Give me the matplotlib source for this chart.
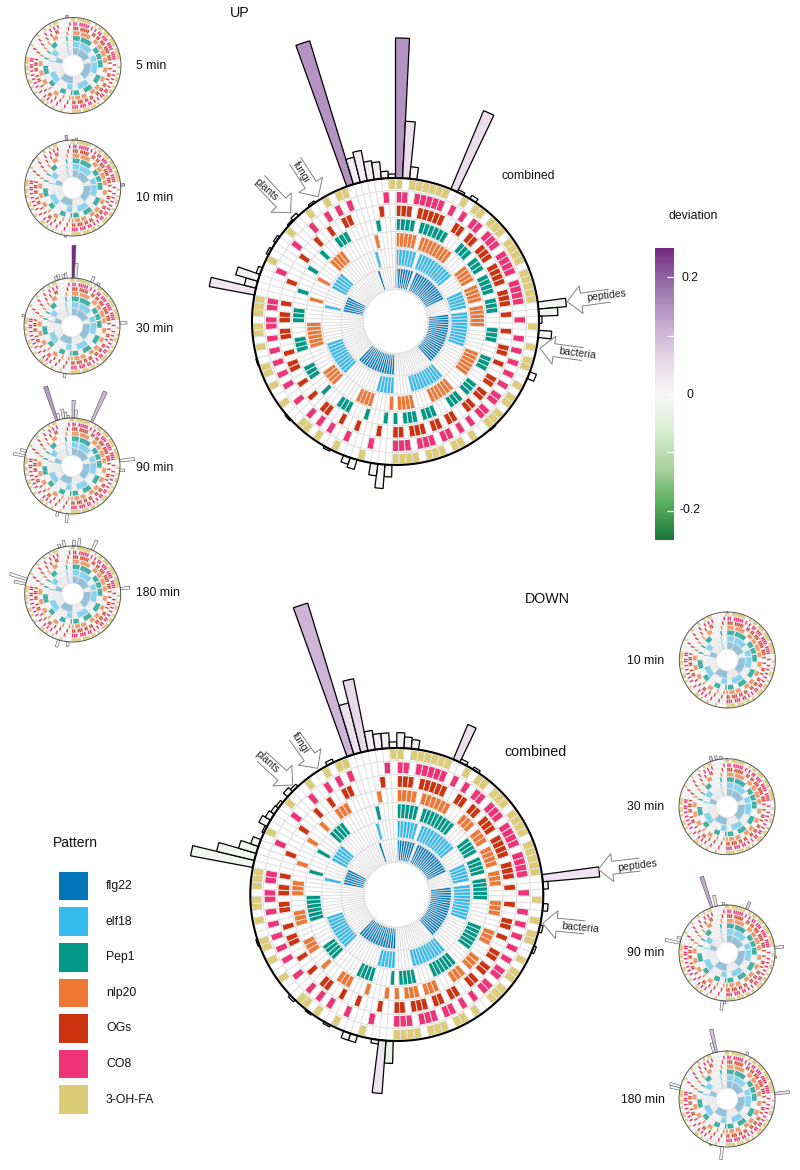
import matplotlib
matplotlib.use("Agg")
import matplotlib.pyplot as plt
import numpy as np
from matplotlib.colors import LinearSegmentedColormap, Normalize
from matplotlib.cm import ScalarMappable

plt.rcParams["font.family"] = ["Liberation Sans", "DejaVu Sans"]

W, H = 800, 1170

pattern_names = ["flg22", "elf18", "Pep1", "nlp20", "OGs", "CO8", "3-OH-FA"]
pattern_colors = ["#0077BB", "#33BBEE", "#009988", "#EE7733", "#CC3311", "#EE3377", "#DDCC77"]

# ring order from the centre outwards
rings_main_up = ["flg22", "elf18", "nlp20", "Pep1", "OGs", "CO8", "3-OH-FA"]
rings_other = ["flg22", "elf18", "Pep1", "nlp20", "OGs", "CO8", "3-OH-FA"]

# which rings are filled in each of the 127 columns, clockwise from 12 o'clock
columns = """
0123456
012345 012346 012356 012456 013456 023456 123456
01234 01235 01236 01245 01246 01256 01345 01346 01356 01456 02345 02346 02356 02456 03456
12345 12346 12356 12456 13456 23456
0123 0124 0125 0126 0134 0135 0136 0145 0146 0156 0234 0235 0236 0245 0246 0256 0345 0346 0356 0456
1234 1235 1236 1245 1246 1256 1345 1346 1356 1456 2345 2346 2356 2456 3456
012 013 014 015 016 023 024 025 026 034 035 036 045 046 056
123 124 125 126 134 135 136 145 146 156 234 235 236 245 246 256 345 346 356 456
01 02 03 04 05 06 12 13 14 15 16 23 24 25 26 34 35 36 45 46 56
0 1 2 3 4 5 6
""".split()

# outer bars: column number, length, deviation
up_combined_cols = [120, 121, 122, 123, 124, 125, 126, 0, 1, 2, 8, 9, 11, 29, 30, 31, 33, 39, 48,
                    64, 65, 66, 69, 70, 73, 80, 89, 99, 100, 101, 102, 105, 107, 110, 111, 114]
up_combined_vals = [150, 26, 31, 19, 17, 7, 4, 140, 57, 12, 85, 2.5, 4, 28, 19, 3, 13, 7, 1,
                    12, 24, 12, 10, 7, 2, 1.5, 1, 46, 12, 23, 4, 2.5, 2.5, 1.5, 3.5, 2]
up_combined_devs = [.145, .02, .02, .02, .02, .01, .01, .145, .04, .0, .045, 0, 0, -.01, -.01, 0, -.01, 0, 0,
                    -.01, -.01, -.01, 0, 0, 0, 0, 0, .03, .01, .01, 0, 0, 0, 0, 0, 0]

down_combined_cols = [120, 121, 122, 123, 124, 125, 126, 0, 1, 2, 8, 9, 11, 29, 30, 33, 36, 39,
                      64, 65, 66, 69, 70, 73, 76, 79, 88, 99, 100, 101, 102, 104, 105, 106, 107, 108, 110, 111, 117]
down_combined_vals = [155, 50, 72, 19, 15, 15, 6, 15, 11, 9, 37, 3.5, 2.5, 56, 5, 5, 3, 2.5,
                      22, 52, 4, 7, 7, 2, 1.5, 2.5, 1.5, 62, 38, 18, 8, 2, 9, 6, 4, 3, 5.5, 3, 3.5]
down_combined_devs = [.105, .04, .055, .02, .015, .015, .005, .015, .015, .01, .04, 0, 0, .035, 0, 0, 0, 0,
                      -.03, .035, 0, 0, 0, 0, 0, 0, 0, -.012, -.012, -.012, -.01, 0, 0, 0, 0, 0, 0, 0, 0]

up5_cols = [124]
up5_vals = [8]
up5_devs = [.1]

up10_cols = [124, 1, 30, 107, 66]
up10_vals = [15, 6, 12, 2, 5]
up10_devs = [.1, .03, .1, 0, 0]

up30_cols = [0, 1, 124, 121, 120, 123, 8, 11, 30, 99, 66]
up30_vals = [98, 44, 16, 15, 12, 13, 18, 8, 21, 9, 13]
up30_devs = [.25, .03, .01, .01, .01, .01, .01, 0, .005, 0, 0]

up90_cols = [120, 0, 1, 8, 123, 121, 124, 125, 99, 101, 29, 33, 65, 69]
up90_vals = [107, 53, 24, 100, 29, 20, 19, 8, 35, 18, 45, 15, 26, 13]
up90_devs = [.14, .08, .02, .1, .02, .01, .01, .01, .005, .005, .005, 0, 0, 0]

up180_cols = [8, 2, 0, 123, 121, 101, 99, 29, 65, 69]
up180_vals = [32, 23, 17, 19, 11, 53, 35, 28, 14, 22]
up180_devs = [.01, .01, .03, .01, .01, .005, .005, .005, 0, 0]

down10_cols = []
down10_vals = []
down10_devs = []

down30_cols = [120, 122, 124]
down30_vals = [15, 12, 8]
down30_devs = [.08, .04, .03]

down90_cols = [120, 122, 125, 8, 29, 99, 101, 65, 64, 33]
down90_vals = [97, 33, 8, 23, 27, 45, 12, 28, 8, 5]
down90_devs = [.12, .03, .01, .07, .03, 0, 0, 0, 0, 0]

down180_cols = [122, 121, 29, 100, 99, 65, 8, 70]
down180_vals = [70, 30, 44, 33, 30, 38, 10, 4]
down180_devs = [.09, .03, .05, 0, 0, .01, 0, 0]

cmap = LinearSegmentedColormap.from_list(
    "dev",
    ["#1B7837", "#5AAE61", "#ACD39E", "#D9F0D3", "#F7F7F7", "#E7D4E8", "#C2A5CF", "#9970AB", "#762A83"],
)
norm = Normalize(-0.25, 0.25)

ring_edges = [32, 54.5, 73.5, 90, 104, 117.5, 131, 143.5]
color_of = dict(zip(pattern_names, pattern_colors))
step = 2 * np.pi / 127

# the small circles wash out: how strong each ring stays and how wide its cells are
small_alpha = [0.4, 0.6, 0.8, 0.75, 0.85, 1, 0.9]
small_width = [1, 1, 1, 1, 0.8, 0.7, 1]


def circle_panel(cx, cy, radius, rings, bar_cols, bar_vals, bar_devs, big=True):
    ax = fig.add_axes(
        [(cx - radius) / W, 1 - (cy + radius) / H, 2 * radius / W, 2 * radius / H],
        projection="polar",
    )
    ax.set_theta_zero_location("N")
    ax.set_theta_direction(-1)

    if big:
        grid_lw, edge_lw, ring_lw, edge_col, grid_z = 0.7, 0.9, 1.5, "black", 3
    else:
        grid_lw, edge_lw, ring_lw, edge_col, grid_z = 0.3, 0.4, 0.7, "#555555", 1

    for k, name in enumerate(rings):
        th = [(i + 0.5) * step for i, c in enumerate(columns) if str(k) in c]
        if big:
            ax.bar(th, ring_edges[k + 1] - ring_edges[k] - 3, width=step * 0.9,
                   bottom=ring_edges[k] + 1.5, color=color_of[name], linewidth=0, zorder=2)
        else:
            ax.bar(th, ring_edges[k + 1] - ring_edges[k] - 3, width=step * small_width[k],
                   bottom=ring_edges[k] + 1.5, color=color_of[name], alpha=small_alpha[k],
                   linewidth=0, zorder=2)

    t = np.arange(127) * step
    ax.vlines(t, ring_edges[0], ring_edges[-1], color="#DDDDDD", lw=grid_lw, zorder=grid_z)
    circ = np.linspace(0, 2 * np.pi, 721)
    for e in ring_edges[:-1]:
        ax.plot(circ, np.full(721, e), color="#DDDDDD", lw=grid_lw, zorder=grid_z)

    if bar_cols:
        ax.bar(
            (np.array(bar_cols) + 0.5) * step,
            bar_vals,
            width=step,
            bottom=ring_edges[-1],
            color=cmap(norm(np.array(bar_devs))),
            edgecolor=edge_col,
            linewidth=edge_lw,
            clip_on=False,
            zorder=4,
        )
    ax.plot(circ, np.full(721, ring_edges[-1]), color=edge_col, lw=ring_lw, zorder=5, clip_on=False)
    ax.set_ylim(0, ring_edges[-1])
    ax.set_axis_off()
    return ax


def block_arrow(tip, tail):
    tip, tail = np.array(tip, float), np.array(tail, float)
    d = (tip - tail) / np.hypot(*(tip - tail))
    n = np.array([-d[1], d[0]])
    base = tip - 14 * d
    pts = np.array([
        tail + 6.5 * n, base + 6.5 * n, base + 14 * n, tip,
        base - 14 * n, base - 6.5 * n, tail - 6.5 * n,
    ])
    over.fill(pts[:, 0], pts[:, 1], color="white", lw=0, zorder=6)
    over.plot(pts[:, 0], pts[:, 1], color="#808080", lw=0.7, zorder=7)


fig = plt.figure(figsize=(W / 100, H / 100), dpi=100)

circle_panel(395.5, 321.5, 143.5, rings_main_up, up_combined_cols, up_combined_vals, up_combined_devs)
circle_panel(396.8, 894.5, 146.5, rings_other, down_combined_cols, down_combined_vals, down_combined_devs)

circle_panel(73, 65.5, 48, rings_other, up5_cols, up5_vals, up5_devs, big=False)
circle_panel(72.7, 188, 48, rings_other, up10_cols, up10_vals, up10_devs, big=False)
circle_panel(72, 326, 48, rings_other, up30_cols, up30_vals, up30_devs, big=False)
circle_panel(72, 466, 48, rings_other, up90_cols, up90_vals, up90_devs, big=False)
circle_panel(72.7, 594, 48, rings_other, up180_cols, up180_vals, up180_devs, big=False)

circle_panel(727.3, 660, 48, rings_other, down10_cols, down10_vals, down10_devs, big=False)
circle_panel(727, 806.7, 48, rings_other, down30_cols, down30_vals, down30_devs, big=False)
circle_panel(727, 953, 48, rings_other, down90_cols, down90_vals, down90_devs, big=False)
circle_panel(727, 1099, 48, rings_other, down180_cols, down180_vals, down180_devs, big=False)

# colour bar
cax = fig.add_axes([655 / W, 1 - 540 / H, 19 / W, 292 / H])
cb = fig.colorbar(ScalarMappable(norm=norm, cmap=cmap), cax=cax)
cb.outline.set_visible(False)
cb.set_ticks([])
cax.hlines([-0.2, -0.1, 0, 0.1, 0.2], 0.62, 1, transform=cax.get_yaxis_transform(), color="white", lw=0.9)

# everything else sits on an overlay in pixel coordinates
over = fig.add_axes([0, 0, 1, 1], zorder=10)
over.set_xlim(0, W)
over.set_ylim(H, 0)
over.set_axis_off()
over.patch.set_alpha(0)

block_arrow((290.7, 212.7), (260, 180.3))
block_arrow((318.3, 196.7), (295.3, 161))
block_arrow((567.3, 301.7), (609, 295.7))
block_arrow((540, 348.3), (582.3, 354))
block_arrow((292.7, 785), (261.7, 756.7))
block_arrow((317.7, 768.3), (295, 736.7))
block_arrow((598.3, 869.3), (639.3, 864.7))
block_arrow((542.7, 923.3), (584.3, 927.3))

arrow_text = dict(ha="center", va="center", fontsize=7.6, color="#222222", zorder=8)
over.text(266, 190, "plants", rotation=-42, **arrow_text)
over.text(301.7, 172.3, "fungi", rotation=-58, **arrow_text)
over.text(606.7, 296, "peptides", rotation=7, **arrow_text)
over.text(577.7, 353.3, "bacteria", rotation=-7, **arrow_text)
over.text(267.3, 761.7, "plants", rotation=-42, **arrow_text)
over.text(300.7, 743.3, "fungi", rotation=-57, **arrow_text)
over.text(637.3, 865.7, "peptides", rotation=7, **arrow_text)
over.text(580, 927.3, "bacteria", rotation=-5, **arrow_text)

label = dict(ha="center", va="center", fontsize=8.8, color="#111111")
over.text(240, 13, "UP", ha="center", va="center", fontsize=10.3, color="#111111")
over.text(547, 599, "DOWN", ha="center", va="center", fontsize=10.3, color="#111111")
over.text(528.3, 176, "combined", **label)
over.text(535.7, 751.7, "combined", ha="center", va="center", fontsize=10.3, color="#111111")
over.text(693, 216, "deviation", **label)
over.text(690, 278, "0.2", **label)
over.text(690, 394.5, "0", **label)
over.text(690, 510, "-0.2", **label)

over.text(150.7, 66, "5 min", **label)
over.text(155, 198, "10 min", **label)
over.text(154.3, 329, "30 min", **label)
over.text(154.3, 467.7, "90 min", **label)
over.text(158, 593, "180 min", **label)
over.text(646, 661, "10 min", **label)
over.text(646, 807.3, "30 min", **label)
over.text(646, 953.3, "90 min", **label)
over.text(642.7, 1100, "180 min", **label)

# legend
over.text(52.7, 842.7, "Pattern", ha="left", va="center", fontsize=10, color="#111111")
for i, (name, col) in enumerate(zip(pattern_names, pattern_colors)):
    y0 = 871.7 + i * 35.6
    over.add_patch(plt.Rectangle((59.3, y0), 29, 28.6, color=col, lw=0))
    over.text(106, y0 + 14.3, name, ha="left", va="center", fontsize=8.8, color="#111111")

fig.savefig("out.png", dpi=100)
